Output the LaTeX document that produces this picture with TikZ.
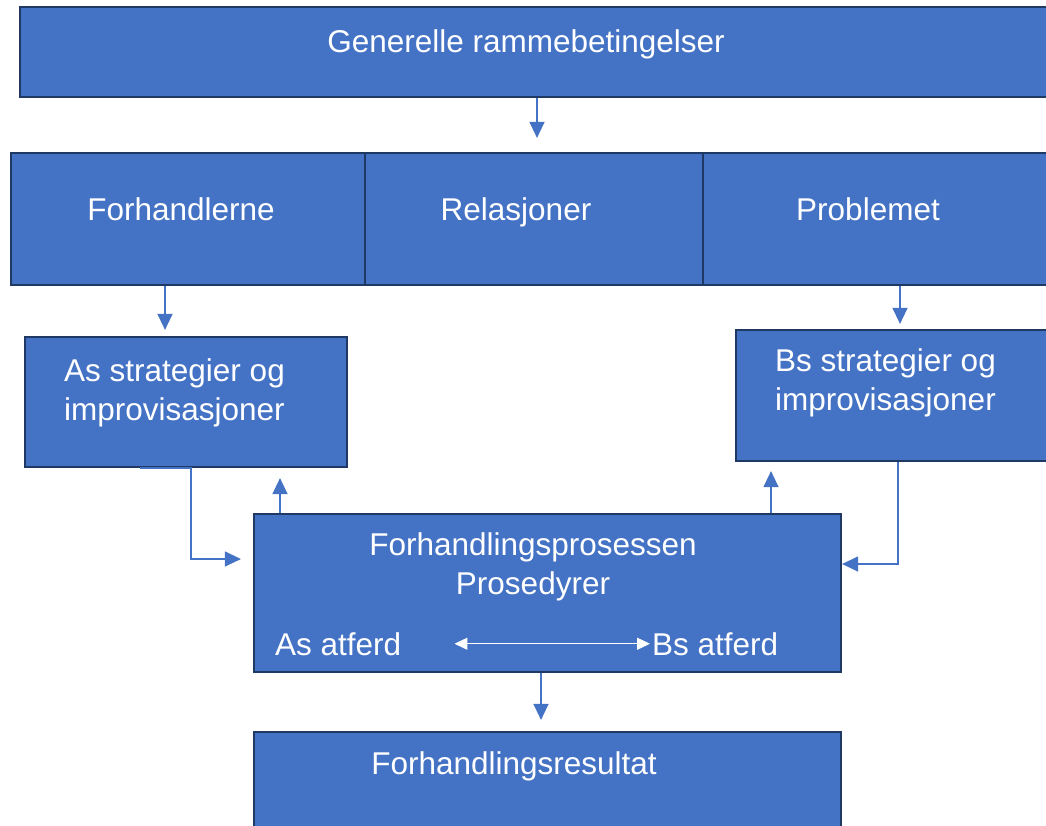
\documentclass[tikz,border=0pt]{standalone}
\usepackage{fontspec}
\setmainfont{Liberation Sans}
\usepackage{xcolor}
\usepackage{tikz}
\usetikzlibrary{arrows.meta, positioning}

\definecolor{boxfill}{HTML}{4472C4}
\definecolor{boxline}{HTML}{203864}

\begin{document}
\begin{tikzpicture}[
  x=1pt, y=-1pt,
  box/.style={draw=boxline, line width=2.2pt, fill=boxfill, inner sep=0pt},
  txt/.style={inner sep=0pt, text=white, font=\fontsize{31.5pt}{39pt}\selectfont},
  arr/.style={draw=boxfill, line width=1.3pt, -{Triangle[width=15pt, length=16pt]}},
  dbl/.style={draw=white, line width=1.3pt, {Triangle[width=12pt, length=13pt]}-{Triangle[width=12pt, length=13pt]}},
]
\useasboundingbox (0,0) rectangle (1046,825);
\clip (0,0) rectangle (1046,825);

% Boxes
\node[box, minimum width=1040pt, minimum height=90pt] (gen) at (540,52) {};
\node[box, minimum width=354pt, minimum height=132pt] (forh) at (188,219) {};
\node[box, minimum width=338pt, minimum height=132pt] (rel) at (534,219) {};
\node[box, minimum width=357pt, minimum height=132pt] (prob) at (881.5,219) {};
\node[box, minimum width=322pt, minimum height=130pt] (as) at (186,402) {};
\node[box, minimum width=324pt, minimum height=131pt] (bs) at (898,395.5) {};
\node[box, minimum width=587pt, minimum height=158pt] (proc) at (547.5,593) {};
\node[box, minimum width=587pt, minimum height=128pt] (res) at (547.5,796) {};

% Texts
\node[txt, anchor=base] (gentxt) at (526,52) {Generelle rammebetingelser};
\node[txt, anchor=base] (forhtxt) at (181,220) {Forhandlerne};
\node[txt, anchor=base] (reltxt) at (516,220) {Relasjoner};
\node[txt, anchor=base] (probtxt) at (868,220) {Problemet};
\node[txt, anchor=base west, align=left] (astxt) at (64,420) {As strategier og\\improvisasjoner};
\node[txt, anchor=base west, align=left] (bstxt) at (775,410) {Bs strategier og\\improvisasjoner};
\node[txt, anchor=base, align=center] (proctxt) at (533,594) {Forhandlingsprosessen\\Prosedyrer};
\node[txt, anchor=base west] (asatf) at (275,655) {As atferd};
\node[txt, anchor=base west] (bsatf) at (652,655) {Bs atferd};
\node[txt, anchor=base] (restxt) at (514,774) {Forhandlingsresultat};

% Arrows
\draw[arr, shorten >=14pt] ([xshift=-3pt]gen.south) -- ([xshift=-3pt]gen.south |- rel.north);
\draw[arr, shorten >=6pt] ([xshift=-23pt]forh.south) -- ([xshift=-23pt]forh.south |- as.north);
\draw[arr, shorten >=5pt] ([xshift=18.5pt]prob.south) -- ([xshift=18.5pt]prob.south |- bs.north);
\draw[arr, shorten >=12pt] ([xshift=-46pt]as.south) -- ([xshift=5pt]as.south) |- ([yshift=34pt]proc.west);
\draw[arr, shorten >=10pt] ([xshift=-267.5pt]proc.north) -- ([xshift=-267.5pt]proc.north |- as.south);
\draw[arr, shorten >=9pt] ([xshift=223.5pt]proc.north) -- ([xshift=223.5pt]proc.north |- bs.south);
\draw[arr] (bs.south) |- ([yshift=29pt]proc.east);
\draw[arr, shorten >=11pt] ([xshift=-6.5pt]proc.south) -- ([xshift=-6.5pt]proc.south |- res.north);
\draw[dbl, shorten <=53pt, shorten >=2pt] (asatf.east) -- (bsatf.west);

\end{tikzpicture}
\end{document}
